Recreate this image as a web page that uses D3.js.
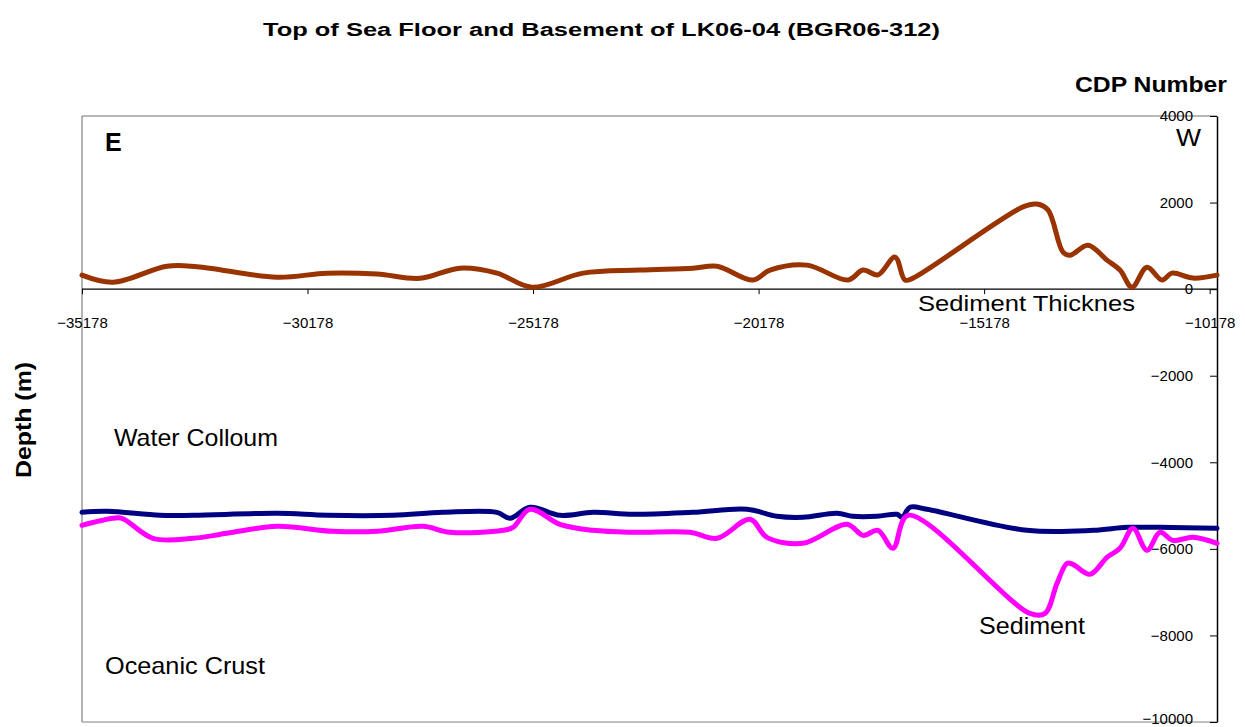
<!DOCTYPE html>
<html>
<head>
<meta charset="utf-8">
<script src="https://cdn.jsdelivr.net/npm/d3@7"></script>
<style>
  html, body { margin: 0; padding: 0; background: #fff; }
  svg { display: block; font-family: "Liberation Sans", Arial, sans-serif; }
</style>
</head>
<body>
<svg id="chart" width="1245" height="727"></svg>
<script>
// Sediment thickness along the profile (m)
const thickCdp = [-35178, -34491, -33294, -32628, -30855, -29746, -28638, -27685, -26798, -25978,
  -25201, -24071, -22807, -21632, -21100, -20302, -19925, -19105, -18196, -17863, -17531,
  -17154, -16932, -16755, -14316, -14006, -13762, -13429, -13274, -12875, -12454, -12166,
  -11899, -11567, -11234, -11013, -10547, -10015];
const thickVal = [324, 160, 530, 520, 275, 370, 350, 250, 485, 370,
  45, 370, 440, 485, 530, 210, 440, 555, 210, 440, 330,
  740, 210, 255, 1900, 1965, 1830, 855, 785, 1015, 670, 440,
  45, 505, 210, 370, 255, 325];

// Top of sea floor (m)
const floorCdp = [-35178, -34624, -33449, -32717, -30855, -29746, -28283, -27175, -25978, -25689,
  -25246, -24581, -23849, -22962, -21632, -20435, -19770, -19194, -18440, -18085, -17553,
  -17110, -16999, -16821, -16445, -14227, -12764, -12011, -11279, -10015];
const floorVal = [-5156, -5133, -5225, -5225, -5179, -5225, -5225, -5156, -5156, -5294,
  -5040, -5225, -5156, -5202, -5156, -5086, -5248, -5271, -5179, -5248, -5248,
  -5202, -5271, -5040, -5086, -5572, -5572, -5503, -5503, -5526];

// Top of basement (m)
const baseCdp = [-35178, -34491, -34291, -33604, -32717, -31963, -30855, -29613, -28638, -27618,
  -27019, -25845, -25623, -25246, -24581, -23849, -22962, -21699, -21100, -20368, -19992,
  -19194, -18218, -17863, -17531, -17198, -16866, -14162, -13828, -13562, -13340, -13208,
  -12831, -12454, -12166, -11878, -11567, -11279, -10990, -10547, -10015];
const baseVal = [-5456, -5294, -5294, -5757, -5757, -5641, -5479, -5595, -5595, -5479,
  -5618, -5572, -5503, -5086, -5433, -5572, -5618, -5618, -5757, -5318, -5734,
  -5872, -5433, -5688, -5572, -5988, -5225, -7491, -7491, -6797, -6335, -6358,
  -6589, -6196, -5988, -5526, -6034, -5618, -5803, -5734, -5872];

const xTicks = [-35178, -30178, -25178, -20178, -15178, -10178];
const yTicks = [4000, 2000, 0, -2000, -4000, -6000, -8000, -10000];

const svg = d3.select("#chart");
const plotL = 82, plotR = 1217, plotT = 116, plotB = 722;

const x = d3.scaleLinear().domain([-35178, -10015]).range([plotL, plotR]);
const y = d3.scaleLinear().domain([-10000, 4000]).range([plotB, plotT]);

// plot frame
svg.append("line").attr("x1", plotL).attr("x2", plotR).attr("y1", plotT).attr("y2", plotT)
  .attr("stroke", "#707070").attr("stroke-width", 1.2);
svg.append("line").attr("x1", plotL).attr("x2", plotL).attr("y1", plotT).attr("y2", plotB)
  .attr("stroke", "#808080").attr("stroke-width", 1.2);
svg.append("line").attr("x1", plotL).attr("x2", plotR).attr("y1", plotB).attr("y2", plotB)
  .attr("stroke", "#808080").attr("stroke-width", 1.2);

// x axis along the zero line
const xAxis = d3.axisBottom(x).tickValues(xTicks).tickSize(5).tickSizeOuter(0)
  .tickFormat(d3.format("d"));
const gx = svg.append("g").attr("transform", `translate(0,${y(0)})`).call(xAxis);
gx.select(".domain").attr("stroke", "#000").attr("stroke-width", 1.3)
  .attr("d", `M${plotL},0H${plotR}`);
gx.selectAll(".tick line").attr("stroke", "#000");
gx.selectAll(".tick text").attr("font-size", 15).attr("fill", "#000")
  .attr("font-family", "Liberation Sans, Arial, sans-serif").attr("y", 0).attr("dy", "39");

// depth axis on the right
const yAxis = d3.axisLeft(y).tickValues(yTicks).tickSize(7).tickSizeOuter(0)
  .tickFormat(d3.format("d"));
const gy = svg.append("g").attr("transform", `translate(${plotR},0)`).call(yAxis);
gy.select(".domain").attr("stroke", "#000").attr("stroke-width", 1.5);
gy.selectAll(".tick line").attr("stroke", "#000");
gy.selectAll(".tick text").attr("font-size", 15).attr("fill", "#000")
  .attr("font-family", "Liberation Sans, Arial, sans-serif").attr("x", -24);
// keep the lowest label inside the page
gy.selectAll(".tick text").filter(d => d === -10000).attr("dy", "0.1em");

// profile lines
const line = d3.line().x(d => x(d[0])).y(d => y(d[1])).curve(d3.curveCatmullRom.alpha(0.5));
const series = [
  { cdp: thickCdp, val: thickVal, color: "#993300" },
  { cdp: floorCdp, val: floorVal, color: "#000080" },
  { cdp: baseCdp, val: baseVal, color: "#FF00FF" }
];
series.forEach(s => {
  svg.append("path")
    .datum(s.cdp.map((c, i) => [c, s.val[i]]))
    .attr("fill", "none").attr("stroke", s.color).attr("stroke-width", 5)
    .attr("stroke-linejoin", "round").attr("stroke-linecap", "round")
    .attr("d", line);
});

// texts
function label(txt, px, py, size, weight, width, anchor) {
  const t = svg.append("text").attr("x", px).attr("y", py)
    .attr("font-size", size).attr("font-weight", weight || "normal")
    .attr("text-anchor", anchor || "start").attr("fill", "#000").text(txt);
  if (width) t.attr("textLength", width).attr("lengthAdjust", "spacingAndGlyphs");
  return t;
}
label("Top of Sea Floor and Basement of LK06-04 (BGR06-312)", 263, 36, 18, "bold", 677);
label("CDP Number", 1075, 92, 22, "bold", 152);
label("E", 105, 151, 25, "bold");
label("W", 1176, 146, 24, "normal", 25);
label("Sediment Thicknes", 918, 311, 22, "normal", 217);
label("Water Colloum", 114, 446, 24, "normal", 164);
label("Oceanic Crust", 105, 674, 24, "normal", 160);
label("Sediment", 979, 634, 24, "normal", 106);

svg.append("text")
  .attr("transform", "translate(31,420) rotate(-90)")
  .attr("text-anchor", "middle").attr("font-size", 22).attr("font-weight", "bold")
  .attr("textLength", 116).attr("lengthAdjust", "spacingAndGlyphs")
  .attr("fill", "#000").text("Depth (m)");
</script>
</body>
</html>
